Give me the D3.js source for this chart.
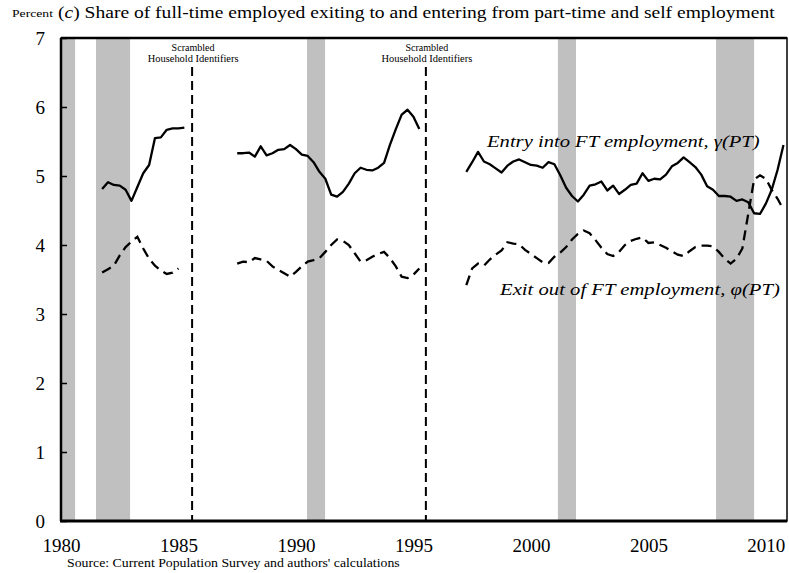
<!DOCTYPE html>
<html>
<head>
<meta charset="utf-8">
<script src="https://cdn.jsdelivr.net/npm/d3@7"></script>
<style>
  body { margin: 0; background: #fff; }
  svg text { font-family: "Liberation Serif", "Times New Roman", serif; fill: #000; }
</style>
</head>
<body>
<div id="grafico"></div>
<script>
// Tamaño de la figura
const WIDTH = 789;
const HEIGHT = 573;
const margin = { top: 38, right: 2, bottom: 52, left: 61 };

// Datos trimestrales (valor en %), cada tramo empieza en su año
var entrada1Inicio = 1981.75;
var entrada1 = [4.81, 4.91, 4.87, 4.86, 4.80, 4.64, 4.84, 5.04, 5.16, 5.55, 5.56, 5.67, 5.69, 5.69, 5.70];
var salida1Inicio = 1981.75;
var salida1 = [3.60, 3.65, 3.70, 3.85, 3.97, 4.05, 4.12, 3.95, 3.80, 3.70, 3.63, 3.58, 3.60, 3.66];

var entrada2Inicio = 1987.5;
var entrada2 = [5.33, 5.33, 5.34, 5.28, 5.43, 5.30, 5.33, 5.38, 5.39, 5.45, 5.39, 5.31, 5.29, 5.20, 5.06, 4.96,
                4.73, 4.70, 4.77, 4.89, 5.04, 5.12, 5.09, 5.08, 5.12, 5.19, 5.45, 5.68, 5.89, 5.96, 5.86, 5.68];
var salida2Inicio = 1987.5;
var salida2 = [3.73, 3.76, 3.75, 3.81, 3.79, 3.77, 3.69, 3.64, 3.59, 3.54, 3.61, 3.69, 3.76, 3.78, 3.81, 3.90,
               4.00, 4.08, 4.06, 4.00, 3.88, 3.76, 3.78, 3.83, 3.87, 3.90, 3.81, 3.69, 3.54, 3.52, 3.57, 3.66];

var entrada3Inicio = 1997.25;
var entrada3 = [5.06, 5.20, 5.35, 5.21, 5.17, 5.11, 5.05, 5.15, 5.21, 5.24, 5.20, 5.16, 5.15, 5.12, 5.20, 5.17,
                5.01, 4.83, 4.71, 4.63, 4.73, 4.86, 4.88, 4.92, 4.79, 4.86, 4.74, 4.80, 4.87, 4.89, 5.04, 4.93,
                4.96, 4.95, 5.02, 5.14, 5.19, 5.27, 5.20, 5.13, 5.02, 4.85, 4.80, 4.71, 4.71, 4.70, 4.64, 4.66,
                4.62, 4.46, 4.45, 4.60, 4.80, 5.09, 5.45];
var salida3Inicio = 1997.25;
var salida3 = [3.42, 3.66, 3.73, 3.70, 3.79, 3.86, 3.92, 4.04, 4.02, 4.01, 3.93, 3.87, 3.81, 3.75, 3.74, 3.83,
               3.89, 3.97, 4.08, 4.16, 4.21, 4.17, 4.07, 3.96, 3.87, 3.84, 3.90, 4.00, 4.06, 4.09, 4.11, 4.03,
               4.04, 4.00, 3.96, 3.91, 3.86, 3.84, 3.91, 3.97, 3.99, 3.99, 3.98, 3.90, 3.80, 3.73, 3.80, 3.95,
               4.45, 4.95, 5.01, 4.96, 4.80, 4.67, 4.51];

// Recesiones (inicio, fin)
var recesiones = [[1980.0, 1980.6], [1981.49, 1982.94], [1990.47, 1991.24], [2001.15, 2001.92], [2007.88, 2009.5]];
// Cambios en los identificadores de hogar
var cortes = [1985.58, 1995.53];

var ticksX = [1980, 1985, 1990, 1995, 2000, 2005, 2010];
var ticksY = [0, 1, 2, 3, 4, 5, 6, 7];

// pasamos cada tramo a puntos {t, v}
function trimestres(inicio, valores) {
    return valores.map(function (v, i) { return { t: inicio + i * 0.25, v: v }; });
}

// estira el texto en horizontal hasta el ancho que tiene en la figura original
function estirar(txt, px, py, ancho, anchor) {
    var largo = txt.node().getComputedTextLength();
    var s = ancho / largo;
    txt.attr("x", 0).attr("y", 0)
        .attr("text-anchor", anchor || "start")
        .attr("transform", "translate(" + px + "," + py + ") scale(" + s + ",1)");
    return txt;
}

var svg = d3.select("#grafico").append("svg")
    .attr("width", WIDTH)
    .attr("height", HEIGHT);

var x = d3.scaleLinear().domain([1980, 2010.9]).range([margin.left, WIDTH - margin.right]);
var y = d3.scaleLinear().domain([0, 7]).range([HEIGHT - margin.bottom, margin.top]);
var y0 = y(0), y7 = y(7);

// sombreado de recesiones
svg.selectAll("rect.recesion")
    .data(recesiones)
    .enter().append("rect")
    .attr("class", "recesion")
    .attr("x", d => x(d[0]))
    .attr("width", d => x(d[1]) - x(d[0]))
    .attr("y", y7)
    .attr("height", y0 - y7)
    .attr("fill", "#c0c0c0");

// lineas verticales discontinuas
svg.selectAll("line.corte")
    .data(cortes)
    .enter().append("line")
    .attr("x1", d => x(d)).attr("x2", d => x(d))
    .attr("y1", 67).attr("y2", y0)
    .attr("stroke", "#000")
    .attr("stroke-width", 2)
    .attr("stroke-dasharray", "9,5");

cortes.forEach(function (c) {
    estirar(svg.append("text").style("font-size", "10px").text("Scrambled"),
        x(c) + 1, 51, 43, "middle");
    estirar(svg.append("text").style("font-size", "10px").text("Household Identifiers"),
        x(c) + 1, 62, 91, "middle");
});

var linea = d3.line().x(d => x(d.t)).y(d => y(d.v));

[[entrada1Inicio, entrada1], [entrada2Inicio, entrada2], [entrada3Inicio, entrada3]].forEach(function (s) {
    svg.append("path")
        .datum(trimestres(s[0], s[1]))
        .attr("d", linea)
        .attr("fill", "none")
        .attr("stroke", "#000")
        .attr("stroke-width", 2.3)
        .attr("stroke-linejoin", "round");
});
[[salida1Inicio, salida1], [salida2Inicio, salida2], [salida3Inicio, salida3]].forEach(function (s) {
    svg.append("path")
        .datum(trimestres(s[0], s[1]))
        .attr("d", linea)
        .attr("fill", "none")
        .attr("stroke", "#000")
        .attr("stroke-width", 2.3)
        .attr("stroke-dasharray", "10,6");
});

// marco del grafico
svg.append("rect")
    .attr("x", x(1980)).attr("y", y7)
    .attr("width", x(2010.9) - x(1980)).attr("height", y0 - y7)
    .attr("fill", "none")
    .attr("stroke", "#000")
    .attr("stroke-width", 1.5);
svg.append("line")
    .attr("x1", x(1980) - 1).attr("x2", x(2010.9))
    .attr("y1", y0).attr("y2", y0)
    .attr("stroke", "#000").attr("stroke-width", 3);
svg.append("line")
    .attr("x1", x(1980)).attr("x2", x(2010.9))
    .attr("y1", y7).attr("y2", y7)
    .attr("stroke", "#000").attr("stroke-width", 2.5);
svg.append("line")
    .attr("x1", x(1980)).attr("x2", x(1980))
    .attr("y1", y7).attr("y2", y0)
    .attr("stroke", "#000").attr("stroke-width", 2.5);

// eje Y (ticks hacia dentro)
var ejeY = d3.axisLeft(y).tickValues(ticksY).tickSize(-6).tickPadding(16).tickFormat(d3.format("d"));
var gY = svg.append("g").attr("transform", "translate(" + x(1980) + ",0)").call(ejeY);
gY.select(".domain").remove();
gY.selectAll("line").attr("stroke-width", 1.5);
gY.selectAll("text").style("font-size", "19px");

// eje X
var ejeX = d3.axisBottom(x).tickValues(ticksX).tickSize(0).tickPadding(18).tickFormat(d3.format("d"));
var gX = svg.append("g").attr("transform", "translate(0," + y0 + ")").call(ejeX);
gX.select(".domain").remove();
gX.selectAll("text").style("font-size", "19px");

// etiquetas de las series
estirar(svg.append("text").style("font-size", "16.5px").style("font-style", "italic")
    .text("Entry into FT employment, γ(PT)"), 487, 147, 273);
estirar(svg.append("text").style("font-size", "16.5px").style("font-style", "italic")
    .text("Exit out of FT employment, φ(PT)"), 500, 295, 280);

// titulos
estirar(svg.append("text").style("font-size", "10.5px").text("Percent"), 12, 17, 41);
var titulo = svg.append("text").style("font-size", "16.5px");
titulo.append("tspan").text("(");
titulo.append("tspan").style("font-style", "italic").text("c");
titulo.append("tspan").text(") Share of full-time employed exiting to and entering from part-time and self employment");
estirar(titulo, 58, 18, 717);

estirar(svg.append("text").style("font-size", "13.5px")
    .text("Source: Current Population Survey and authors' calculations"), 67, 567, 333);
</script>
</body>
</html>
